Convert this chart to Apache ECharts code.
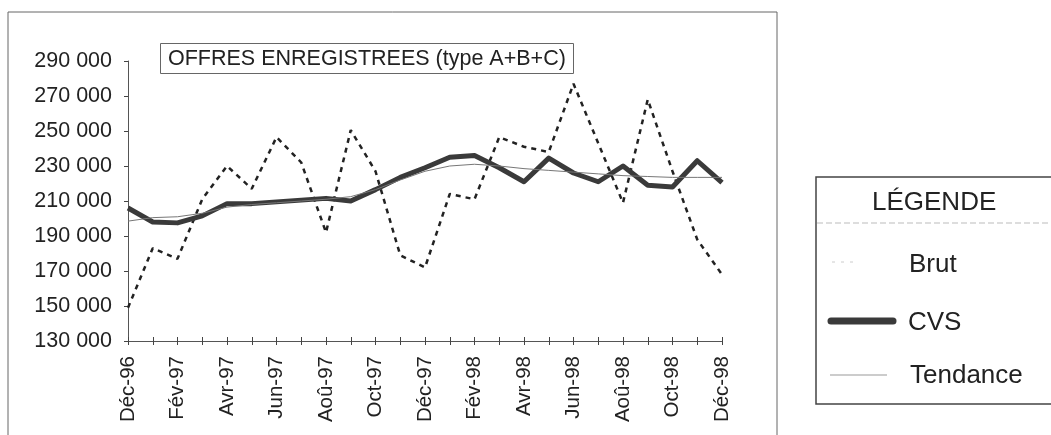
<!DOCTYPE html>
<html>
<head>
<meta charset="utf-8">
<script src="https://cdn.jsdelivr.net/npm/echarts@6/dist/echarts.min.js"></script>
<style>
  html, body { margin: 0; padding: 0; background: #fff; }
  #chart { width: 1051px; height: 435px; }
</style>
</head>
<body>
<div id="chart"></div>
<script>
  // mois (Déc-96 -> Déc-98)
  const months = ['Déc-96', 'Jan-97', 'Fév-97', 'Mar-97', 'Avr-97', 'Mai-97', 'Jun-97', 'Jul-97',
    'Aoû-97', 'Sep-97', 'Oct-97', 'Nov-97', 'Déc-97', 'Jan-98', 'Fév-98', 'Mar-98', 'Avr-98',
    'Mai-98', 'Jun-98', 'Jul-98', 'Aoû-98', 'Sep-98', 'Oct-98', 'Nov-98', 'Déc-98'];

  const brut = [149000, 183000, 177000, 211000, 230000, 217000, 246500, 232000, 192000, 250500,
    227000, 179000, 172000, 214000, 211000, 246500, 241000, 238000, 277000, 243000, 209000,
    268000, 227000, 188000, 168000];

  const cvs = [206000, 198000, 197500, 201500, 208500, 208500, 209500, 210500, 211500, 210000,
    216500, 223500, 229000, 235000, 236000, 229000, 221000, 234500, 226000, 221000, 230000,
    219000, 218000, 233000, 220500];

  const tendance = [198500, 200500, 201000, 203000, 206500, 208000, 209000, 210000, 211000,
    212500, 216500, 222000, 227000, 230000, 231000, 230000, 228500, 227500, 226500, 225500,
    224500, 224000, 223500, 223500, 223500];

  const yTicks = { min: 130000, max: 290000, step: 20000 };

  const fmt = v => String(v).replace(/\B(?=(\d{3})+(?!\d))/g, ' ');
  const font = 'Liberation Sans, Arial, sans-serif';

  let chart = echarts.init(document.getElementById('chart'));
  chart.setOption({
    backgroundColor: '#fff',
    animation: false,
    title: {
      text: 'OFFRES ENREGISTREES (type A+B+C)',
      left: 160, top: 43,
      padding: [4, 8, 3, 8],
      borderColor: '#666', borderWidth: 1,
      textStyle: { fontFamily: font, fontSize: 21.5, fontWeight: 'normal', color: '#222', lineHeight: 24 }
    },
    grid: { left: 128, right: 329, top: 61, bottom: 94 },
    xAxis: [{
      type: 'category',
      data: months,
      boundaryGap: false,
      axisLine: { lineStyle: { color: '#555', width: 1 } },
      axisTick: { interval: 0, length: 4, lineStyle: { color: '#444' } },
      axisLabel: { interval: 1, rotate: 90, margin: 15, fontFamily: font, fontSize: 20.5, color: '#222' }
    }, {
      type: 'category',
      data: months,
      boundaryGap: false,
      position: 'bottom',
      axisLine: { show: false },
      axisTick: { inside: true, interval: 0, length: 4, lineStyle: { color: '#444' } },
      axisLabel: { show: false }
    }],
    yAxis: {
      type: 'value',
      min: yTicks.min, max: yTicks.max, interval: yTicks.step,
      axisLine: { show: true, lineStyle: { color: '#555', width: 1 } },
      axisTick: { show: true, length: 4, lineStyle: { color: '#444' } },
      splitLine: { show: false },
      axisLabel: { margin: 16, fontFamily: font, fontSize: 21.5, color: '#222', formatter: fmt }
    },
    series: [
      {
        name: 'Brut', type: 'line', data: brut, symbol: 'none',
        lineStyle: { color: '#222', width: 2.5, type: [5, 5] }, z: 2
      },
      {
        name: 'CVS', type: 'line', data: cvs, symbol: 'none',
        lineStyle: { color: '#3a3a3a', width: 5, join: 'round' }, z: 3
      },
      {
        name: 'Tendance', type: 'line', data: tendance, symbol: 'none',
        lineStyle: { color: '#777', width: 1 }, z: 4
      }
    ],
    graphic: [
      // cadre du graphique
      { type: 'rect', shape: { x: 8, y: 12, width: 769, height: 440 },
        style: { fill: 'none', stroke: '#666', lineWidth: 1 }, silent: true },
      // légende
      { type: 'rect', shape: { x: 816, y: 177, width: 260, height: 227 },
        style: { fill: 'none', stroke: '#444', lineWidth: 1.5 }, silent: true },
      { type: 'line', shape: { x1: 817, y1: 223, x2: 1051, y2: 223 },
        style: { stroke: '#bbb', lineWidth: 1, lineDash: [6, 3] }, silent: true },
      { type: 'text', left: 872, top: 190,
        style: { text: 'LÉGENDE', fontFamily: font, fontSize: 26, fill: '#222' } },
      { type: 'line', shape: { x1: 832, y1: 262, x2: 858, y2: 262 },
        style: { stroke: '#ccc', lineWidth: 1, lineDash: [3, 6] }, silent: true },
      { type: 'text', left: 909, top: 252,
        style: { text: 'Brut', fontFamily: font, fontSize: 26, fill: '#222' } },
      { type: 'line', shape: { x1: 831, y1: 321, x2: 893, y2: 321 },
        style: { stroke: '#3a3a3a', lineWidth: 7, lineCap: 'round' }, silent: true },
      { type: 'text', left: 908, top: 310,
        style: { text: 'CVS', fontFamily: font, fontSize: 26, fill: '#222' } },
      { type: 'line', shape: { x1: 830, y1: 375, x2: 887, y2: 375 },
        style: { stroke: '#999', lineWidth: 1 }, silent: true },
      { type: 'text', left: 910, top: 363,
        style: { text: 'Tendance', fontFamily: font, fontSize: 26, fill: '#222' } }
    ]
  });
</script>
</body>
</html>
